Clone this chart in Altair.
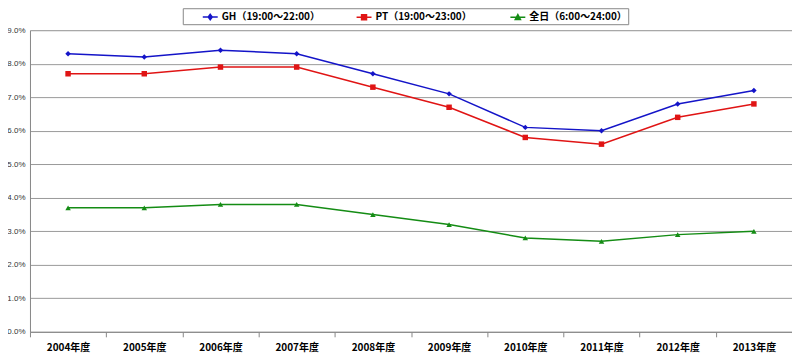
import altair as alt
import pandas as pd

years = ["2004年度", "2005年度", "2006年度", "2007年度", "2008年度",
         "2009年度", "2010年度", "2011年度", "2012年度", "2013年度"]
series_names = ["GH（19:00～22:00）", "PT（19:00～23:00）", "全日（6:00～24:00）"]
gh = [8.3, 8.2, 8.4, 8.3, 7.7, 7.1, 6.1, 6.0, 6.8, 7.2]
pt = [7.7, 7.7, 7.9, 7.9, 7.3, 6.7, 5.8, 5.6, 6.4, 6.8]
allday = [3.7, 3.7, 3.8, 3.8, 3.5, 3.2, 2.8, 2.7, 2.9, 3.0]
y_ticks = [0, 1, 2, 3, 4, 5, 6, 7, 8, 9]

colors = ["#1414C8", "#E01414", "#148C14"]
shapes = ["diamond", "square", "triangle-up"]
# legend symbols: a short line with a solid marker (filled by stroked hatching)
legend_shapes = [
    "M-1.15,0H1.15M0,-0.42L0.31,0L0,0.42L-0.31,0ZM-0.16,-0.2H0.16M-0.16,0.2H0.16",
    "M-1.15,0H1.15M-0.38,-0.38H0.38V0.38H-0.38ZM-0.38,-0.19H0.38M-0.38,0.19H0.38",
    "M-1.15,0H1.15M0,-0.42L0.4,0.35H-0.4ZM-0.14,-0.15H0.14M-0.27,0.1H0.27",
]

rows = []
for name, vals in zip(series_names, [gh, pt, allday]):
    for yr, v in zip(years, vals):
        rows.append({"year": yr, "series": name, "value": v / 100.0})
df = pd.DataFrame(rows)

x_enc = alt.X("year:N", sort=years, title=None,
              scale=alt.Scale(paddingInner=0, paddingOuter=0),
              axis=alt.Axis(labelAngle=0, tickBand="extent", tickSize=5,
                            tickColor="#888888", domainColor="#888888",
                            labelFont="Noto Sans CJK JP", labelFontWeight="bold",
                            labelFontSize=10, labelColor="#000000", labelPadding=6,
                            grid=False))
y_enc = alt.Y("value:Q", title=None,
              scale=alt.Scale(domain=[0, 0.09], nice=False, zero=True),
              axis=alt.Axis(values=[t / 100.0 for t in y_ticks], format=".1%",
                            tickCount=10,
                            grid=True, gridColor="#9a9a9a", gridWidth=1,
                            domainColor="#888888", ticks=False, labelOverlap=False,
                            labelFont="Liberation Sans", labelFontSize=8,
                            labelColor="#333333", labelPadding=5))

color_scale = alt.Scale(domain=series_names, range=colors)

lines = alt.Chart(df).mark_line(strokeWidth=1.5).encode(
    x=x_enc, y=y_enc,
    color=alt.Color("series:N", scale=color_scale, legend=None),
    detail="series:N",
)

points = alt.Chart(df).mark_point(filled=True, size=30, opacity=1).encode(
    x=x_enc, y=y_enc,
    color=alt.Color("series:N", scale=color_scale, legend=None),
    shape=alt.Shape("series:N", scale=alt.Scale(domain=series_names, range=shapes), legend=None),
)

leg = alt.Legend(orient="none", legendX=153, legendY=-22, direction="horizontal",
                 title=None, columns=3, columnPadding=17, gridAlign="all",
                 strokeColor="#888888", fillColor="#ffffff", padding=1,
                 symbolOffset=19,
                 labelFont="Noto Sans CJK JP", labelFontSize=10, labelFontWeight="bold",
                 labelColor="#000000", symbolSize=169, symbolStrokeWidth=1.5,
                 labelOffset=4, symbolOpacity=1, labelLimit=200)

legend_layer = alt.Chart(df).transform_filter("datum.value < 0").mark_point(filled=False, strokeWidth=1.5).encode(
    x=x_enc, y=y_enc,
    color=alt.Color("series:N", scale=alt.Scale(domain=series_names, range=colors), legend=leg),
    shape=alt.Shape("series:N", scale=alt.Scale(domain=series_names, range=legend_shapes), legend=leg),
)

chart = alt.layer(lines, points, legend_layer).resolve_scale(
    shape="independent", color="independent"
).properties(
    width=763, height=302,
    autosize=alt.AutoSizeParams(type="none"),
    padding={"left": 22, "top": 22, "right": 0, "bottom": 27},
).configure_view(stroke="#888888", strokeWidth=1).configure(background="#ffffff")

chart.save("out.html", embed_options={"renderer": "svg", "actions": False})
